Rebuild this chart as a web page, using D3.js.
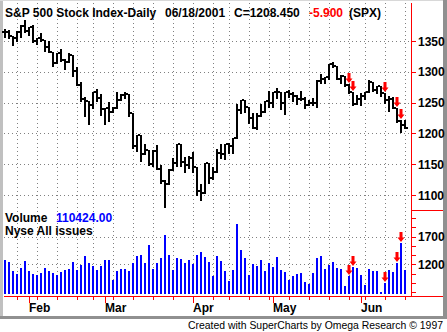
<!DOCTYPE html>
<html>
<head>
<meta charset="utf-8">
<script src="https://cdn.jsdelivr.net/npm/d3@7"></script>
<style>
  body { margin: 0; background: #fff; }
  svg { display: block; font-family: "Liberation Sans", Arial, sans-serif; }
  .lbl { font-size: 12px; font-weight: bold; }
</style>
</head>
<body>
<div id="chart"></div>
<script>
// trading days shown (S&P 500 daily, 2001)
var dates = ["2001-01-24","2001-01-25","2001-01-26","2001-01-29","2001-01-30","2001-01-31",
  "2001-02-01","2001-02-02","2001-02-05","2001-02-06","2001-02-07","2001-02-08","2001-02-09",
  "2001-02-12","2001-02-13","2001-02-14","2001-02-15","2001-02-16","2001-02-20","2001-02-21",
  "2001-02-22","2001-02-23","2001-02-26","2001-02-27","2001-02-28",
  "2001-03-01","2001-03-02","2001-03-05","2001-03-06","2001-03-07","2001-03-08","2001-03-09",
  "2001-03-12","2001-03-13","2001-03-14","2001-03-15","2001-03-16","2001-03-19","2001-03-20",
  "2001-03-21","2001-03-22","2001-03-23","2001-03-26","2001-03-27","2001-03-28","2001-03-29",
  "2001-03-30",
  "2001-04-02","2001-04-03","2001-04-04","2001-04-05","2001-04-06","2001-04-09","2001-04-10",
  "2001-04-11","2001-04-12","2001-04-16","2001-04-17","2001-04-18","2001-04-19","2001-04-20",
  "2001-04-23","2001-04-24","2001-04-25","2001-04-26","2001-04-27","2001-04-30",
  "2001-05-01","2001-05-02","2001-05-03","2001-05-04","2001-05-07","2001-05-08","2001-05-09",
  "2001-05-10","2001-05-11","2001-05-14","2001-05-15","2001-05-16","2001-05-17","2001-05-18",
  "2001-05-21","2001-05-22","2001-05-23","2001-05-24","2001-05-25","2001-05-29","2001-05-30",
  "2001-05-31",
  "2001-06-01","2001-06-04","2001-06-05","2001-06-06","2001-06-07","2001-06-08","2001-06-11",
  "2001-06-12","2001-06-13","2001-06-14","2001-06-15","2001-06-18"];

var open = [1364.3,1364.9,1357.5,1354.9,1364.2,1373.7,1366.0,1373.5,1349.5,1354.3,1352.3,1340.9,1332.5,
  1314.8,1330.3,1318.8,1315.9,1326.6,1301.5,1278.9,1255.3,1252.8,1245.9,1267.7,1257.9,
  1239.9,1241.2,1234.2,1241.4,1253.8,1261.9,1264.7,1233.4,1180.2,1197.7,1166.7,1173.6,1150.5,1170.8,
  1142.6,1122.1,1117.6,1139.8,1152.7,1182.2,1153.3,1148.0,
  1160.3,1145.9,1106.5,1103.3,1151.4,1128.4,1137.6,1168.4,1165.9,1183.5,1179.7,1191.8,1238.2,1253.7,
  1243.0,1224.4,1209.5,1228.8,1234.5,1253.1,
  1249.5,1266.4,1267.4,1248.6,1266.6,1263.5,1261.2,1255.5,1255.2,1245.7,1248.9,1249.4,1285.0,1288.5,
  1292.0,1312.8,1309.4,1289.1,1293.2,1277.9,1267.9,1248.1,
  1255.8,1260.7,1267.1,1283.6,1270.0,1277.0,1265.0,1254.4,1255.9,1241.6,1219.9,1214.4];
var high = [1369.8,1367.4,1357.5,1365.5,1375.7,1383.4,1373.5,1376.4,1354.6,1363.6,1352.3,1350.3,1332.5,
  1330.9,1336.6,1320.7,1331.3,1326.6,1307.2,1282.9,1259.9,1252.8,1267.7,1272.8,1263.5,
  1241.4,1251.0,1242.6,1267.4,1263.9,1266.5,1264.7,1233.4,1197.8,1197.7,1182.0,1173.6,1173.5,1180.6,
  1149.4,1124.3,1141.8,1160.0,1183.3,1182.2,1161.7,1162.6,
  1169.5,1145.9,1117.5,1151.5,1151.4,1146.1,1173.9,1182.2,1183.5,1184.6,1192.3,1248.4,1253.7,1253.7,
  1243.0,1233.5,1232.4,1248.3,1253.1,1269.3,
  1266.5,1272.9,1267.4,1267.5,1270.0,1267.8,1261.6,1268.1,1259.8,1254.3,1257.5,1286.4,1296.5,1292.1,
  1312.9,1315.9,1309.4,1295.0,1293.2,1280.0,1267.9,1261.9,
  1265.3,1267.2,1286.6,1283.8,1277.1,1277.0,1265.0,1261.0,1259.8,1241.6,1221.5,1221.2];
var low = [1357.3,1354.6,1342.8,1350.4,1356.2,1364.7,1359.3,1348.7,1344.5,1350.0,1334.3,1332.4,1309.7,
  1313.6,1317.5,1304.7,1315.9,1293.2,1278.4,1253.4,1228.3,1215.4,1241.7,1252.3,1229.7,
  1214.5,1219.7,1234.0,1241.4,1253.8,1257.0,1228.4,1176.8,1171.5,1155.4,1166.7,1148.6,1147.2,1142.2,
  1118.7,1081.2,1117.6,1139.8,1147.8,1147.8,1136.9,1143.8,
  1137.5,1100.2,1091.9,1103.3,1119.3,1126.4,1137.6,1160.3,1157.7,1167.4,1168.9,1191.8,1233.4,1234.4,
  1217.6,1208.9,1207.4,1228.8,1234.5,1243.0,
  1243.6,1257.7,1239.9,1232.0,1259.2,1253.4,1247.8,1254.6,1240.8,1245.7,1245.4,1243.0,1282.6,1281.2,
  1287.9,1308.1,1288.7,1281.4,1276.4,1265.4,1245.9,1248.1,
  1246.9,1256.4,1267.1,1269.0,1265.1,1260.0,1249.2,1235.8,1241.6,1218.9,1203.0,1208.3];
var close = [1364.9,1357.5,1354.9,1364.2,1373.7,1366.0,1373.5,1349.5,1354.3,1352.3,1340.9,1332.5,1314.8,
  1330.3,1318.8,1315.9,1326.6,1301.5,1278.9,1255.3,1252.8,1245.9,1267.7,1257.9,1239.9,
  1241.2,1234.2,1241.4,1253.8,1261.9,1264.7,1233.4,1180.2,1197.7,1166.7,1173.6,1150.5,1170.8,1142.6,
  1122.1,1117.6,1139.8,1152.7,1182.2,1153.3,1148.0,1160.3,
  1145.9,1106.5,1103.3,1151.4,1128.4,1137.6,1168.4,1165.9,1183.5,1179.7,1191.8,1238.2,1253.7,1243.0,
  1224.4,1209.5,1228.8,1234.5,1253.1,1249.5,
  1266.4,1267.4,1248.6,1266.6,1263.5,1261.2,1255.5,1255.2,1245.7,1248.9,1249.4,1285.0,1288.5,1292.0,
  1312.8,1309.4,1289.1,1293.2,1277.9,1267.9,1248.1,1255.8,
  1260.7,1267.1,1283.6,1270.0,1277.0,1265.0,1254.4,1255.9,1241.6,1219.9,1214.4,1208.4];

// NYSE volume (same units as the right scale)
var volume = [1278,1236,1079,1024,1133,1260,1079,1024,1006,1042,1133,1079,1042,
  1006,1060,1097,1115,1242,1097,1187,1350,1224,1169,1097,1169,
  1278,1278,916,1079,1115,1115,1079,1224,1350,1368,1224,1555,1115,1224,
  1314,1736,1368,1097,1314,1296,1224,1278,
  1205,1368,1423,1332,1242,988,1350,1260,1079,897,1097,1930,1459,1314,
  1006,1205,1169,1278,1079,1224,
  1151,1332,1097,1060,916,988,1024,1042,879,843,1042,1314,1350,1115,
  1187,1242,1133,1115,807,988,1151,1133,
  1006,825,1115,1079,1079,698,856,1097,1060,1224,1591,1097];

// bars flagged with red arrows
var signalDays = ["2001-05-29","2001-05-30","2001-06-11","2001-06-14","2001-06-15"];

var priceTicks = [1350, 1300, 1250, 1200, 1150, 1100];
var volTicks = [1700, 1200];
var monthNames = ["Jan","Feb","Mar","Apr","May","Jun","Jul","Aug","Sep","Oct","Nov","Dec"];

var W = 447, H = 332;
var svg = d3.select("#chart").append("svg").attr("width", W).attr("height", H);

var parse = d3.timeParse("%Y-%m-%d");
var bars = dates.map(function(d, i) {
  return {date: d, t: parse(d), o: open[i], h: high[i], l: low[i], c: close[i], v: volume[i]};
});

var x = d3.scalePoint().domain(dates).range([5, 405]);
var y = d3.scaleLinear().domain([1100, 1350]).range([195, 41]);
var yv = d3.scaleLinear().domain([675, 1700]).range([293.5, 236.7]);
var plotLeft = 4, axisX = 411, volBase = 294;

// frame
svg.append("rect").attr("x", 0).attr("y", 0).attr("width", W).attr("height", H).attr("fill", "#fff");
svg.append("rect").attr("x", 0).attr("y", 0).attr("width", 3).attr("height", 319).attr("fill", "#c0c0c0");
svg.append("rect").attr("x", 0).attr("y", 0).attr("width", W).attr("height", 1).attr("fill", "#d8d8d8");
svg.append("rect").attr("x", 443).attr("y", 0).attr("width", 4).attr("height", 319).attr("fill", "#909090");
svg.append("rect").attr("x", 0).attr("y", 316).attr("width", W).attr("height", 3).attr("fill", "#909090");

// week starts and month starts
var weekStarts = bars.filter(function(d, i) {
  return i > 0 && d3.timeMonday.floor(d.t) > bars[i - 1].t;
});
var monthStarts = bars.filter(function(d, i) {
  return i > 0 && d.t.getMonth() !== bars[i - 1].t.getMonth();
});

var grid = svg.append("g").attr("stroke", "#808080").attr("stroke-dasharray", "1,3")
  .attr("shape-rendering", "crispEdges");
grid.selectAll(".vg").data(weekStarts).enter().append("line")
  .attr("x1", function(d) { return x(d.date) + 0.5; })
  .attr("x2", function(d) { return x(d.date) + 0.5; })
  .attr("y1", 3).attr("y2", volBase);
grid.selectAll(".hg").data(priceTicks).enter().append("line")
  .attr("x1", plotLeft).attr("x2", axisX)
  .attr("y1", function(d) { return Math.round(y(d)) + 0.5; })
  .attr("y2", function(d) { return Math.round(y(d)) + 0.5; });
grid.selectAll(".vhg").data(volTicks).enter().append("line")
  .attr("x1", plotLeft).attr("x2", axisX)
  .attr("y1", function(d) { return Math.round(yv(d)) + 0.5; })
  .attr("y2", function(d) { return Math.round(yv(d)) + 0.5; });

// OHLC bars
var ohlc = svg.append("g").attr("fill", "#000").attr("shape-rendering", "crispEdges");
ohlc.selectAll(".hl").data(bars).enter().append("rect")
  .attr("x", function(d) { return x(d.date) - 1; })
  .attr("y", function(d) { return Math.round(y(d.h)); })
  .attr("width", 2)
  .attr("height", function(d) { return Math.max(2, Math.round(y(d.l)) - Math.round(y(d.h)) + 1); });
ohlc.selectAll(".op").data(bars).enter().append("rect")
  .attr("x", function(d) { return x(d.date) - 3; })
  .attr("y", function(d) { return Math.round(y(d.o)) - 1; })
  .attr("width", 2).attr("height", 2);
ohlc.selectAll(".cl").data(bars).enter().append("rect")
  .attr("x", function(d) { return x(d.date) + 1; })
  .attr("y", function(d) { return Math.round(y(d.c)) - 1; })
  .attr("width", 2).attr("height", 2);

// volume bars
svg.append("g").attr("fill", "#0000ff").attr("shape-rendering", "crispEdges")
  .selectAll("rect").data(bars).enter().append("rect")
  .attr("x", function(d) { return x(d.date) - 1; })
  .attr("y", function(d) { return Math.round(yv(d.v)); })
  .attr("width", 2)
  .attr("height", function(d) { return volBase - Math.round(yv(d.v)); });

// red arrows
function arrow(cx, tip) {
  return "M" + cx + "," + tip + "l-3.5,-4.5h2v-5.5h3v5.5h2z";
}
var sig = bars.filter(function(d) { return signalDays.indexOf(d.date) >= 0; });
var arrows = svg.append("g").attr("fill", "#ff0000");
arrows.selectAll(".pa").data(sig).enter().append("path")
  .attr("d", function(d) { return arrow(x(d.date), Math.round(y(d.h)) - 1); });
arrows.selectAll(".va").data(sig).enter().append("path")
  .attr("d", function(d) { return arrow(x(d.date), Math.round(yv(d.v)) - 1); });

// axes (red)
var ax = svg.append("g").attr("stroke", "#ff0000").attr("shape-rendering", "crispEdges");
ax.append("line").attr("x1", axisX + 0.5).attr("x2", axisX + 0.5).attr("y1", 3).attr("y2", 297);
ax.append("line").attr("x1", axisX).attr("x2", 443).attr("y1", 210.5).attr("y2", 210.5);
ax.append("line").attr("x1", plotLeft).attr("x2", 443).attr("y1", 296.5).attr("y2", 296.5);
ax.selectAll(".pt").data(priceTicks).enter().append("line")
  .attr("x1", axisX).attr("x2", axisX + 5)
  .attr("y1", function(d) { return Math.round(y(d)) + 0.5; })
  .attr("y2", function(d) { return Math.round(y(d)) + 0.5; });
var volMinor = d3.range(-3, 6).map(function(k) { return 1200 + k * 500 / 3; });
ax.selectAll(".vt").data(volMinor).enter().append("line")
  .attr("x1", axisX).attr("x2", axisX + 5)
  .attr("y1", function(d) { return Math.round(yv(d)) + 0.5; })
  .attr("y2", function(d) { return Math.round(yv(d)) + 0.5; });
ax.selectAll(".wt").data(weekStarts).enter().append("line")
  .attr("x1", function(d) { return x(d.date) + 0.5; })
  .attr("x2", function(d) { return x(d.date) + 0.5; })
  .attr("y1", 296).attr("y2", 300);
ax.selectAll(".mt").data(monthStarts).enter().append("line")
  .attr("x1", function(d) { return x(d.date) + 0.5; })
  .attr("x2", function(d) { return x(d.date) + 0.5; })
  .attr("y1", 296).attr("y2", 303);

// axis labels
svg.selectAll(".pl").data(priceTicks).enter().append("text").attr("class", "lbl")
  .attr("x", 418).attr("y", function(d) { return y(d) + 4.5; }).text(function(d) { return d; });
svg.selectAll(".vl").data(volTicks).enter().append("text").attr("class", "lbl")
  .attr("x", 418).attr("y", function(d) { return yv(d) + 4.5; }).text(function(d) { return d; });
svg.selectAll(".ml").data(monthStarts).enter().append("text").attr("class", "lbl")
  .attr("x", function(d) { return x(d.date); }).attr("y", 311.5)
  .text(function(d) { return monthNames[d.t.getMonth()]; });

// header texts
var last = bars[bars.length - 1];
var header = [
  {x: 5, text: "S&P 500 Stock Index-Daily", fill: "#000"},
  {x: 165, text: d3.timeFormat("%m/%d/%Y")(last.t), fill: "#000"},
  {x: 234, text: "C=1208.450", fill: "#000"},
  {x: 309, text: "-5.900", fill: "#ff0000"},
  {x: 349, text: "(SPX)", fill: "#000"}
];
svg.selectAll(".hd").data(header).enter().append("text").attr("class", "lbl")
  .attr("x", function(d) { return d.x; }).attr("y", 16.5)
  .attr("fill", function(d) { return d.fill; }).text(function(d) { return d.text; });

svg.append("text").attr("class", "lbl").attr("x", 5).attr("y", 221.5).text("Volume");
svg.append("text").attr("class", "lbl").attr("x", 56).attr("y", 221.5).attr("fill", "#0000ff").text("110424.00");
svg.append("text").attr("class", "lbl").attr("x", 5).attr("y", 234.5).text("Nyse All issues");

svg.append("text").attr("x", 188).attr("y", 328.5)
  .attr("textLength", 255).attr("lengthAdjust", "spacingAndGlyphs")
  .style("font-size", "11px").text("Created with SuperCharts by Omega Research \u00a9 1997");
</script>
</body>
</html>
